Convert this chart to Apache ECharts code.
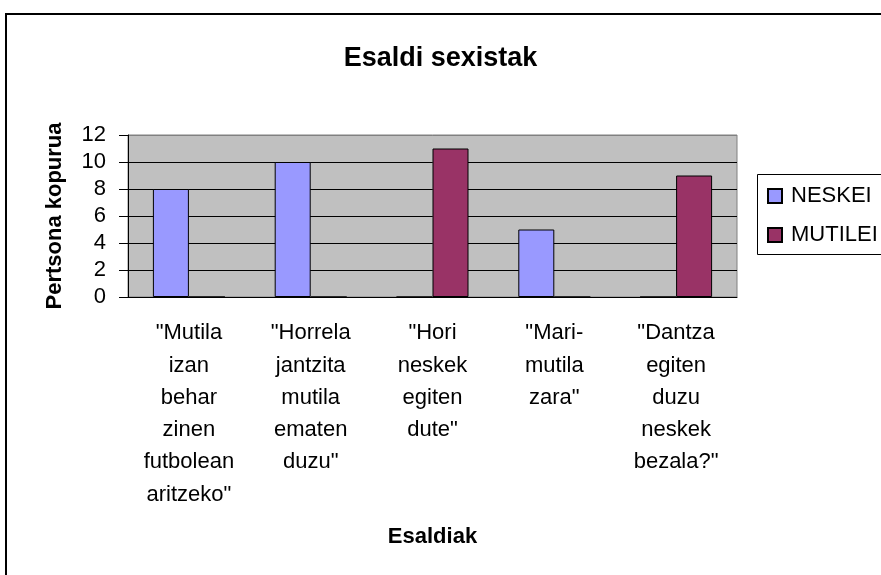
<!DOCTYPE html>
<html>
<head>
<meta charset="utf-8">
<script src="https://cdn.jsdelivr.net/npm/echarts@6/dist/echarts.min.js"></script>
<style>
html, body { margin: 0; padding: 0; background: #fff; }
#chart { width: 881px; height: 575px; }
</style>
</head>
<body>
<div id="chart"></div>
<script>
// esaldiak (kategoriak)
var categories = [
    '"Mutila\nizan\nbehar\nzinen\nfutbolean\naritzeko"',
    '"Horrela\njantzita\nmutila\nematen\nduzu"',
    '"Hori\nneskek\negiten\ndute"',
    '"Mari-\nmutila\nzara"',
    '"Dantza\negiten\nduzu\nneskek\nbezala?"'
];
var neskei = [8, 10, 0, 5, 0];
var mutilei = [0, 0, 11, 0, 9];
var yTicks = [0, 12, 2]; // min, max, interval

var dom = document.getElementById('chart');
var myChart = echarts.init(dom);
var font = 'Liberation Sans, Arial, sans-serif';

var option = {
    backgroundColor: '#fff',
    animation: false,
    title: {
        text: 'Esaldi sexistak',
        left: 'center',
        top: 40,
        textStyle: { fontFamily: font, fontSize: 27, fontWeight: 'bold', color: '#000' }
    },
    graphic: [
        // kanpoko markoa
        { type: 'rect', shape: { x: 6, y: 14, width: 1000, height: 1000 },
          style: { fill: 'none', stroke: '#000', lineWidth: 2 } },
        // legendaren markoa
        { type: 'rect', shape: { x: 757.5, y: 174.5, width: 200, height: 80 },
          style: { fill: '#fff', stroke: '#000', lineWidth: 1 }, z: -1 }
    ],
    legend: {
        data: ['NESKEI', 'MUTILEI'],
        orient: 'vertical',
        left: 767,
        top: 185,
        padding: 0,
        itemWidth: 14,
        itemHeight: 14,
        itemGap: 17,
        icon: 'rect',
        textStyle: { fontFamily: font, fontSize: 22, color: '#000', lineHeight: 22, padding: [0, 0, 0, 4] }
    },
    grid: {
        left: 128,
        right: 144,
        top: 135,
        bottom: 278,
        show: true,
        backgroundColor: '#C0C0C0',
        borderColor: '#808080',
        borderWidth: 1
    },
    xAxis: {
        type: 'category',
        data: categories,
        name: 'Esaldiak',
        nameLocation: 'middle',
        nameGap: 229,
        nameTextStyle: { fontFamily: font, fontSize: 22, fontWeight: 'bold', color: '#000' },
        axisLine: { lineStyle: { color: '#000', width: 1 } },
        axisTick: { length: 7, lineStyle: { color: '#000' } },
        axisLabel: {
            interval: 0,
            margin: 20,
            fontFamily: font, fontSize: 22, color: '#000', lineHeight: 32.3,
            verticalAlign: 'top'
        }
    },
    yAxis: {
        type: 'value',
        min: yTicks[0],
        max: yTicks[1],
        interval: yTicks[2],
        name: 'Pertsona kopurua',
        nameLocation: 'middle',
        nameGap: 62,
        nameTextStyle: { fontFamily: font, fontSize: 22, fontWeight: 'bold', color: '#000' },
        axisLine: { show: true, lineStyle: { color: '#000', width: 1 } },
        axisTick: { show: true, length: 9, lineStyle: { color: '#000' } },
        axisLabel: { margin: 22, fontFamily: font, fontSize: 22, color: '#000' },
        splitLine: { show: true, lineStyle: { color: ['#000', '#000', '#000', '#000', '#000', '#000', '#808080'], width: 1 } }
    },
    series: [
        {
            name: 'NESKEI',
            type: 'bar',
            data: neskei,
            barWidth: 36,
            barGap: '0%',
            itemStyle: { color: '#9999FF', borderColor: '#000', borderWidth: 1 }
        },
        {
            name: 'MUTILEI',
            type: 'bar',
            data: mutilei,
            barWidth: 36,
            barGap: '0%',
            itemStyle: { color: '#993366', borderColor: '#000', borderWidth: 1 }
        }
    ]
};

myChart.setOption(option, true);
</script>
</body>
</html>
